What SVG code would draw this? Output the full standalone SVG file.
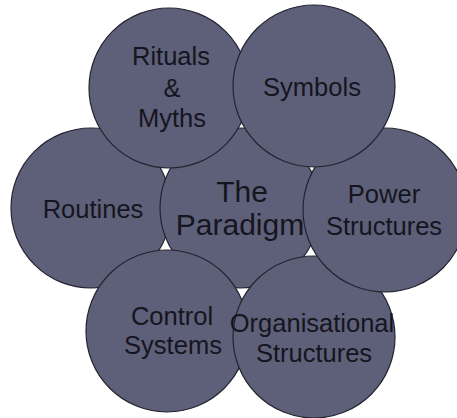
<svg xmlns="http://www.w3.org/2000/svg" width="457" height="418" viewBox="0 0 457 418">
  <style>
    .c { fill: #5e5f78; stroke: #23232f; stroke-width: 1.2; }
    .t { font-family: "Liberation Sans", Arial, sans-serif; font-size: 25.5px; fill: #15151f; text-anchor: middle; }
    .big { font-size: 30px; }
  </style>
  <rect width="457" height="418" fill="#ffffff"/>
  <g id="routines">
    <circle class="c" cx="91" cy="208" r="80"/>
    <text class="t" x="93" y="218">Routines</text>
  </g>
  <g id="paradigm">
    <circle class="c" cx="240" cy="208" r="80"/>
    <text class="t big" x="242" y="202">The</text>
    <text class="t big" x="240" y="235">Paradigm</text>
  </g>
  <g id="control-systems">
    <circle class="c" cx="167" cy="331" r="81"/>
    <text class="t" x="172" y="325">Control</text>
    <text class="t" x="173" y="354">Systems</text>
  </g>
  <g id="organisational-structures">
    <circle class="c" cx="314" cy="337" r="81"/>
    <text class="t" x="312" y="332">Organisational</text>
    <text class="t" x="314" y="362">Structures</text>
  </g>
  <g id="power-structures">
    <circle class="c" cx="385" cy="210" r="82"/>
    <text class="t" x="384" y="203">Power</text>
    <text class="t" x="384" y="235">Structures</text>
  </g>
  <g id="rituals-myths">
    <circle class="c" cx="169" cy="88" r="80"/>
    <text class="t" x="171" y="65">Rituals</text>
    <text class="t" x="172" y="97">&amp;</text>
    <text class="t" x="172" y="127">Myths</text>
  </g>
  <g id="symbols">
    <circle class="c" cx="314" cy="86" r="81"/>
    <text class="t" x="312" y="96">Symbols</text>
  </g>
  <g id="connectors"/>
</svg>
